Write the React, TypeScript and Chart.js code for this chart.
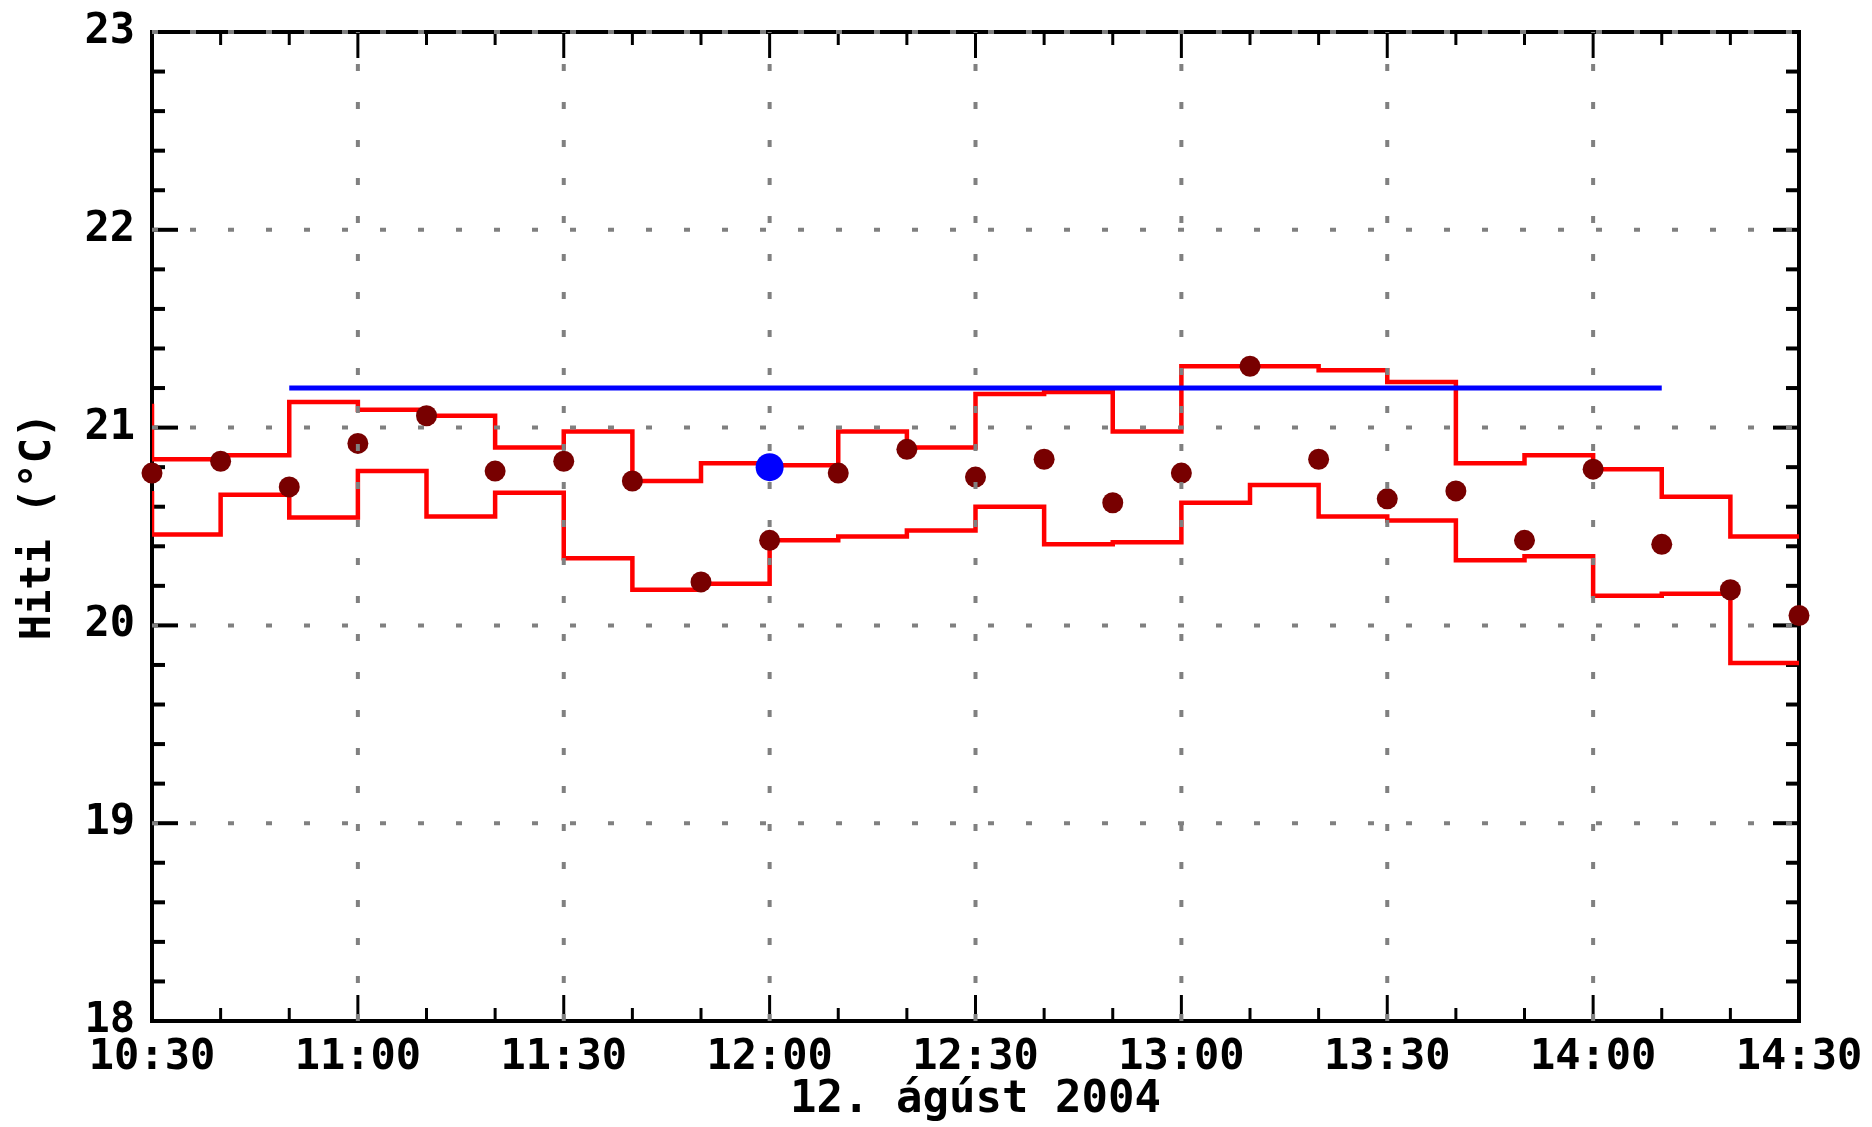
import React, { useEffect, useRef } from 'react';
import { Chart, registerables } from 'chart.js';

Chart.register(...registerables);

// ---- data ----
const stepTimes = ['10:30', '10:40', '10:50', '11:00', '11:10', '11:20', '11:30', '11:40', '11:50', '12:00', '12:10', '12:20', '12:30', '12:40', '12:50', '13:00', '13:10', '13:20', '13:30', '13:40', '13:50', '14:00', '14:10', '14:20', '14:30'];
const upperStart = 21.12;
const upperValues = [20.84, 20.86, 21.13, 21.09, 21.06, 20.90, 20.98, 20.73, 20.82, 20.81, 20.98, 20.90, 21.17, 21.18, 20.98, 21.31, 21.31, 21.29, 21.23, 20.82, 20.86, 20.79, 20.65, 20.45];
const lowerStart = 20.68;
const lowerValues = [20.46, 20.66, 20.545, 20.78, 20.55, 20.67, 20.34, 20.18, 20.21, 20.43, 20.45, 20.48, 20.60, 20.41, 20.42, 20.62, 20.71, 20.55, 20.53, 20.33, 20.35, 20.15, 20.16, 19.81];
const obsTimes = ['10:30', '10:40', '10:50', '11:00', '11:10', '11:20', '11:30', '11:40', '11:50', '12:00', '12:10', '12:20', '12:30', '12:40', '12:50', '13:00', '13:10', '13:20', '13:30', '13:40', '13:50', '14:00', '14:10', '14:20', '14:30'];
const obsValues = [20.77, 20.83, 20.70, 20.92, 21.06, 20.78, 20.83, 20.73, 20.22, 20.43, 20.77, 20.89, 20.75, 20.84, 20.62, 20.77, 21.31, 20.84, 20.64, 20.68, 20.43, 20.79, 20.41, 20.18, 20.05];
const currentTime = '12:00';
const currentValue = 20.80;
const refTimes = ['10:50', '14:10'];
const refValue = 21.2;
const xTickLabels = ['10:30', '11:00', '11:30', '12:00', '12:30', '13:00', '13:30', '14:00', '14:30'];
const yTickValues = [18, 19, 20, 21, 22, 23];
const xMinorMinutes = 10;
const yMinorStep = 0.2;
const dateLabel = '12. ágúst 2004';
const yTitle = 'Hiti (°C)';

const toMin = (s: string) => {
  const [h, m] = s.split(':').map(Number);
  return h * 60 + m;
};

function stepData(start: number, values: number[]) {
  const pts = [{ x: toMin(stepTimes[0]), y: start }];
  values.forEach((v, i) => pts.push({ x: toMin(stepTimes[i]), y: v }));
  pts.push({ x: toMin(stepTimes[values.length]), y: values[values.length - 1] });
  return pts;
}

const FONT = 'DejaVu Sans Mono';

const axisPlugin = {
  id: 'axisFrame',
  beforeDatasetsDraw(chart: any) {
    const { ctx, chartArea } = chart;
    const { left, right, top, bottom } = chartArea;
    const xs = chart.scales.x;
    const ys = chart.scales.y;
    const seg = (x1: number, y1: number, x2: number, y2: number) => {
      ctx.beginPath();
      ctx.moveTo(x1, y1);
      ctx.lineTo(x2, y2);
      ctx.stroke();
    };
    ctx.save();
    ctx.strokeStyle = '#000';
    ctx.lineCap = 'butt';
    const majorX = xTickLabels.map(toMin);
    ctx.lineWidth = 3;
    for (let m = xs.min; m <= xs.max + 1e-6; m += xMinorMinutes) {
      const px = xs.getPixelForValue(m);
      const len = majorX.includes(Math.round(m)) ? 26 : 13;
      seg(px, bottom, px, bottom - len);
      seg(px, top, px, top + len);
    }
    ctx.lineWidth = 4;
    const nY = Math.round((ys.max - ys.min) / yMinorStep);
    for (let i = 0; i <= nY; i++) {
      const v = ys.min + i * yMinorStep;
      const py = ys.getPixelForValue(v);
      const major = yTickValues.some((t) => Math.abs(t - v) < 1e-6);
      const len = major ? 26 : 13;
      seg(left, py, left + len, py);
      seg(right, py, right - len, py);
    }
    ctx.lineWidth = 4;
    ctx.strokeRect(left, top, right - left, bottom - top);
    ctx.restore();
  },
  afterDatasetsDraw(chart: any) {
    const { ctx, chartArea } = chart;
    const { left, right, top, bottom } = chartArea;
    const xs = chart.scales.x;
    const ys = chart.scales.y;
    ctx.save();
    ctx.strokeStyle = '#808080';
    ctx.lineCap = 'butt';
    ctx.lineWidth = 4;
    ctx.setLineDash([6, 32]);
    yTickValues.slice(1).forEach((v) => {
      const py = ys.getPixelForValue(v);
      ctx.beginPath();
      ctx.moveTo(left, py);
      ctx.lineTo(right, py);
      ctx.stroke();
    });
    ctx.setLineDash([7, 31]);
    xTickLabels.slice(1, -1).forEach((l) => {
      const px = xs.getPixelForValue(toMin(l));
      ctx.beginPath();
      ctx.moveTo(px, bottom);
      ctx.lineTo(px, top);
      ctx.stroke();
    });
    ctx.restore();
  },
};

export default function App() {
  const ref = useRef<HTMLCanvasElement | null>(null);

  useEffect(() => {
    const canvas = ref.current;
    if (!canvas) return;
    const tickFont = { family: FONT, size: 42, weight: 'bold' as const };
    const chart = new Chart(canvas, {
      type: 'line',
      data: {
        datasets: [
          {
            label: 'current',
            data: [{ x: toMin(currentTime), y: currentValue }],
            showLine: false,
            pointRadius: 14,
            pointBackgroundColor: '#0000ff',
            pointBorderWidth: 0,
            clip: false,
            order: 0,
          } as any,
          {
            label: 'obs',
            data: obsTimes.map((t, i) => ({ x: toMin(t), y: obsValues[i] })),
            showLine: false,
            pointRadius: 10.5,
            pointBackgroundColor: '#780000',
            pointBorderWidth: 0,
            clip: false,
            order: 1,
          },
          {
            label: 'ref',
            data: refTimes.map((t) => ({ x: toMin(t), y: refValue })),
            borderColor: '#0000ff',
            borderWidth: 5,
            pointRadius: 0,
            borderCapStyle: 'butt',
            order: 2,
          },
          {
            label: 'upper',
            data: stepData(upperStart, upperValues),
            borderColor: '#ff0000',
            borderWidth: 4.5,
            pointRadius: 0,
            stepped: 'before',
            borderJoinStyle: 'miter',
            borderCapStyle: 'butt',
            order: 3,
          },
          {
            label: 'lower',
            data: stepData(lowerStart, lowerValues),
            borderColor: '#ff0000',
            borderWidth: 4.5,
            pointRadius: 0,
            stepped: 'before',
            borderJoinStyle: 'miter',
            borderCapStyle: 'butt',
            order: 4,
          },
        ],
      },
      options: {
        animation: false,
        responsive: false,
        maintainAspectRatio: false,
        layout: { padding: { top: 32, right: 73, left: 0, bottom: 0 } },
        plugins: { legend: { display: false }, tooltip: { enabled: false } },
        scales: {
          x: {
            type: 'linear',
            min: toMin(xTickLabels[0]),
            max: toMin(xTickLabels[xTickLabels.length - 1]),
            grid: { display: false, drawTicks: false },
            border: { display: false },
            ticks: {
              stepSize: 30,
              autoSkip: false,
              maxRotation: 0,
              padding: 12,
              color: '#000',
              font: tickFont,
              callback: (v: any) => xTickLabels.find((l) => toMin(l) === Number(v)) ?? '',
            },
            title: {
              display: true,
              text: dateLabel,
              color: '#000',
              font: { family: FONT, size: 44, weight: 'bold' },
              padding: { top: 0, bottom: 0 },
            },
            afterFit: (s: any) => {
              s.height = 106;
              s.paddingLeft = 0;
              s.paddingRight = 0;
            },
          },
          y: {
            type: 'linear',
            min: 18,
            max: 23,
            grid: { display: false, drawTicks: false },
            border: { display: false },
            ticks: {
              stepSize: 1,
              padding: 17,
              color: '#000',
              font: tickFont,
            },
            title: {
              display: true,
              text: yTitle,
              color: '#000',
              font: { family: FONT, size: 42, weight: 'bold' },
              padding: { top: 14, bottom: 0 },
            },
            afterFit: (s: any) => {
              s.width = 152;
              s.paddingTop = 0;
              s.paddingBottom = 0;
            },
          },
        },
      } as any,
      plugins: [axisPlugin],
    });
    return () => chart.destroy();
  }, []);

  return (
    <div style={{ position: 'fixed', left: 0, top: 0, width: 1872, height: 1127, background: '#fff' }}>
      <canvas ref={ref} width={1872} height={1127} style={{ display: 'block', width: 1872, height: 1127 }} />
    </div>
  );
}
